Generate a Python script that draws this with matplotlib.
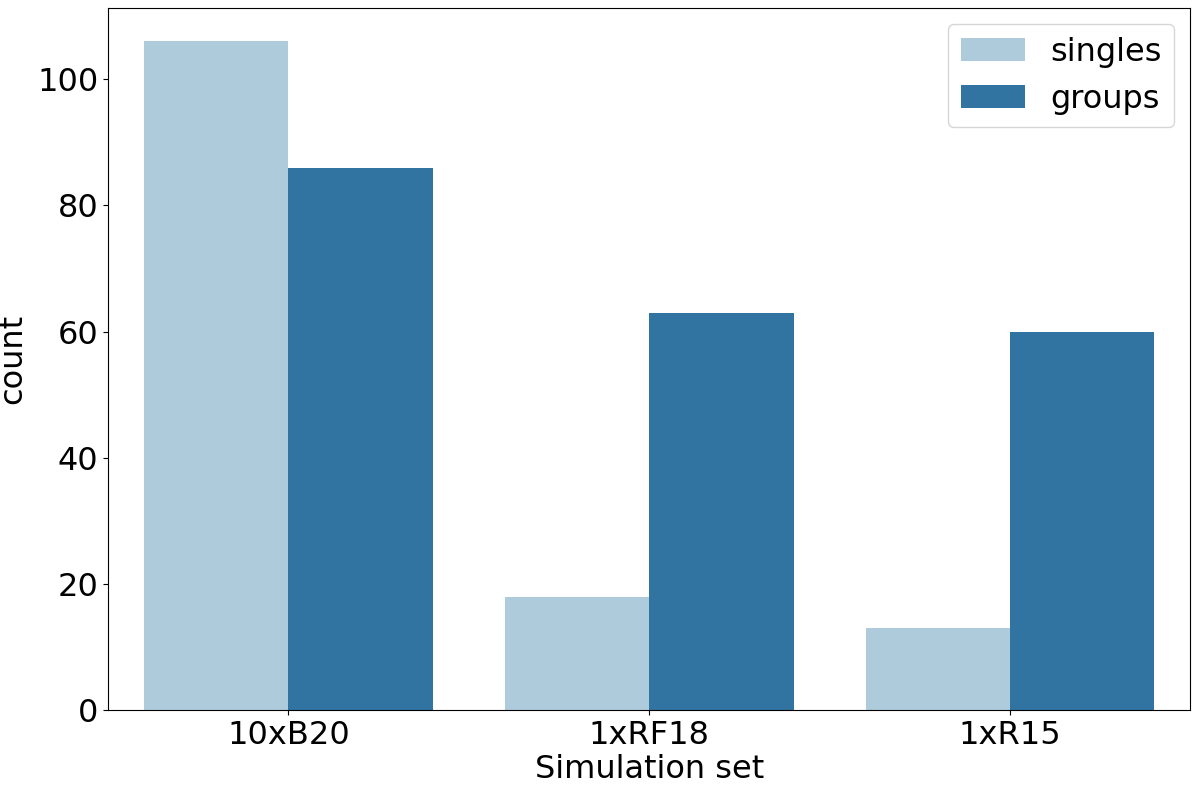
import numpy as np
import matplotlib
matplotlib.use("Agg")
import matplotlib.pyplot as plt

sim_sets = ["10xB20", "1xRF18", "1xR15"]
singles = [106, 18, 13]
groups = [86, 63, 60]
series_names = ["singles", "groups"]
colors = ["#aecbdc", "#3274a1"]

plt.rcParams['font.family'] = ['DejaVu Sans']

fig, ax = plt.subplots(figsize=(12, 7.85), dpi=100)
x = np.arange(len(sim_sets))
w = 0.4
ax.bar(x - w / 2, singles, w, color=colors[0], label=series_names[0])
ax.bar(x + w / 2, groups, w, color=colors[1], label=series_names[1])

ax.set_xticks(x)
ax.set_xticklabels(sim_sets)
ax.set_xlim(-0.5, len(sim_sets) - 0.5)
ax.set_ylim(0, max(singles + groups) * 1.05)
ax.set_xlabel("Simulation set", fontsize=23, labelpad=2)
ax.set_ylabel("count", fontsize=23, labelpad=6)
ax.tick_params(labelsize=23)
ax.legend(fontsize=23, loc="upper right")

fig.subplots_adjust(left=0.09, right=0.992, top=0.99, bottom=0.095)
fig.savefig("out.png")
